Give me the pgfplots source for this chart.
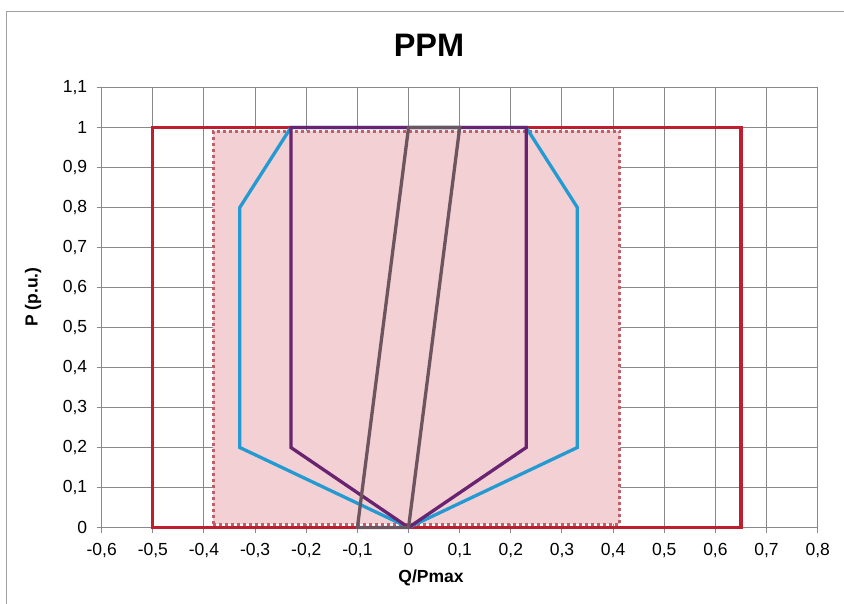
\documentclass[border=0pt]{standalone}
\usepackage{pgfplots}
\pgfplotsset{compat=1.18}
\usepackage{fontspec}
\setmainfont{Liberation Sans}
\definecolor{cred}{RGB}{190,30,45}
\definecolor{cblue}{RGB}{35,155,210}
\definecolor{cpurple}{RGB}{105,35,112}
\definecolor{cgray}{RGB}{108,85,95}
\definecolor{cfill}{RGB}{242,208,212}
\definecolor{cdot}{RGB}{190,95,105}
\definecolor{gridc}{RGB}{136,136,136}
\begin{document}
\begin{tikzpicture}[x=1pt,y=1pt]
\useasboundingbox (0,0) rectangle (844,603);
\draw[color=gridc!80, line width=1pt] (6.5,-2) -- (6.5,591) -- (850,591);
\begin{axis}[
  at={(101.7pt,75.5pt)}, anchor=south west,
  scale only axis, width=716pt, height=440pt,
  xmin=-0.6, xmax=0.8, ymin=0, ymax=1.1,
  xtick={-0.6,-0.5,-0.4,-0.3,-0.2,-0.1,0,0.1,0.2,0.3,0.4,0.5,0.6,0.7,0.8},
  ytick={0,0.1,0.2,0.3,0.4,0.5,0.6,0.7,0.8,0.9,1,1.1},
  grid=major,
  major grid style={color=gridc, line width=1pt},
  axis line style={color=gridc, line width=1pt},
  tick style={color=gridc, line width=1pt},
  tick align=outside, tick pos=left,
  major tick length=5pt,
  /pgf/number format/.cd, use comma, fixed, precision=1, assume math mode=true,
  /pgfplots/.cd,
  tick label style={font=\fontsize{17.5}{17.5}\selectfont, text=black},
  xticklabel style={yshift=-7pt},
  yticklabel style={xshift=-6pt},
  clip=false,
]
\addplot[fill=cfill, draw=cdot, line width=3pt, dash pattern=on 3pt off 3pt]
  coordinates {(-0.382,0.008) (0.413,0.008) (0.413,0.991) (-0.382,0.991)} -- cycle;
\addplot[cred, line width=3.3pt, line join=miter]
  coordinates {(-0.5,0) (-0.5,1) (0.65,1) (0.65,0) (-0.5,0)} -- cycle;
\addplot[cblue, line width=3.3pt]
  coordinates {(0,0) (-0.33,0.2) (-0.33,0.8) (-0.23,1) (0.23,1) (0.33,0.8) (0.33,0.2) (0,0)};
\addplot[cpurple, line width=3.3pt]
  coordinates {(0,0) (-0.23,0.2) (-0.23,1) (0.23,1) (0.23,0.2) (0,0)};
\addplot[cgray, line width=3.3pt]
  coordinates {(-0.1,0) (0,1) (0.1,1) (0,0)} -- cycle;
\end{axis}
\node[font=\fontsize{32.5}{32.5}\selectfont\bfseries] at (429,558) {PPM};
\node[font=\fontsize{17.5}{17.5}\selectfont\bfseries, rotate=90] at (33,306) {P (p.u.)};
\node[font=\fontsize{17.5}{17.5}\selectfont\bfseries] at (431,25) {Q/Pmax};
\end{tikzpicture}
\end{document}
